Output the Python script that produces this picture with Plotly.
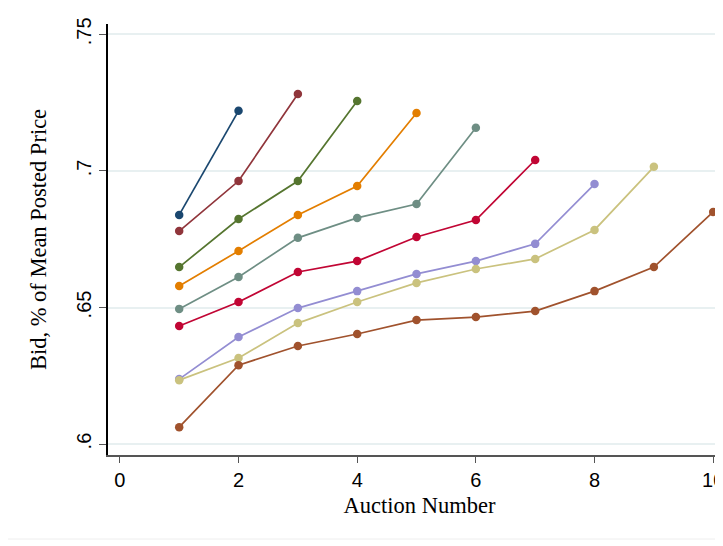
import plotly.graph_objects as go

auction_numbers = list(range(1, 11))
series_colors = ["#1a476f", "#90353b", "#55752f", "#e37e00", "#6e8e84",
                 "#c10534", "#938dd2", "#cac27e", "#a0522d"]
bids_2 = [0.6839, 0.7220]
bids_3 = [0.6780, 0.6963, 0.7282]
bids_4 = [0.6648, 0.6824, 0.6963, 0.7256]
bids_5 = [0.6579, 0.6707, 0.6839, 0.6945, 0.7212]
bids_6 = [0.6495, 0.6612, 0.6755, 0.6828, 0.6879, 0.7158]
bids_7 = [0.6432, 0.6520, 0.6630, 0.6670, 0.6758, 0.6820, 0.7040]
bids_8 = [0.6238, 0.6392, 0.6498, 0.6560, 0.6623, 0.6670, 0.6733, 0.6952]
bids_9 = [0.6234, 0.6315, 0.6443, 0.6520, 0.6590, 0.6641, 0.6678, 0.6784, 0.7015]
bids_10 = [0.6062, 0.6289, 0.6359, 0.6403, 0.6454, 0.6465, 0.6487, 0.6560, 0.6648, 0.6850]
all_series = [bids_2, bids_3, bids_4, bids_5, bids_6, bids_7, bids_8, bids_9, bids_10]

y_ticks = [0.6, 0.65, 0.7, 0.75]
y_tick_labels = [".6", ".65", ".7", ".75"]
x_ticks = [0, 2, 4, 6, 8, 10]

fig = go.Figure()
for vals, col in zip(all_series, series_colors):
    fig.add_trace(go.Scatter(
        x=auction_numbers[:len(vals)], y=vals, mode="lines+markers",
        line=dict(color=col, width=1.7),
        marker=dict(color=col, size=8.5),
        showlegend=False))

fig.update_layout(
    width=723, height=546,
    margin=dict(l=100, r=0, t=16, b=99),
    paper_bgcolor="white", plot_bgcolor="white",
    font=dict(family="Liberation Sans, Arial, sans-serif", color="black"),
)
fig.update_xaxes(
    range=[-0.2, 10.30], tickvals=x_ticks, ticktext=[str(v) for v in x_ticks],
    showgrid=False, zeroline=False, automargin=False,
    showline=True, linecolor="#555555", linewidth=1.5,
    ticks="outside", ticklen=6, tickcolor="#555555",
    tickfont=dict(size=20),
    title=dict(text="Auction Number",
               font=dict(family="Liberation Serif, Times New Roman, serif", size=22.5),
               standoff=7),
)
fig.update_yaxes(
    range=[0.596, 0.7538], tickvals=y_ticks, ticktext=y_tick_labels,
    tickangle=-90, automargin=False,
    showgrid=True, gridcolor="#e8f0f1", gridwidth=1.5, zeroline=False,
    showline=True, linecolor="black", linewidth=1.5,
    ticks="outside", ticklen=7, tickcolor="#555555",
    tickfont=dict(size=20),
    title=dict(text="Bid, % of Mean Posted Price",
               font=dict(family="Liberation Serif, Times New Roman, serif", size=22.5),
               standoff=20),
)
# faint outer graph-region border (bottom edge)
fig.add_shape(type="line", xref="paper", yref="paper",
              x0=-100 / 623, x1=1.0,
              y0=(447 - 531) / 431, y1=(447 - 531) / 431,
              line=dict(color="#eeeeee", width=1))

fig.write_html("out.html")
